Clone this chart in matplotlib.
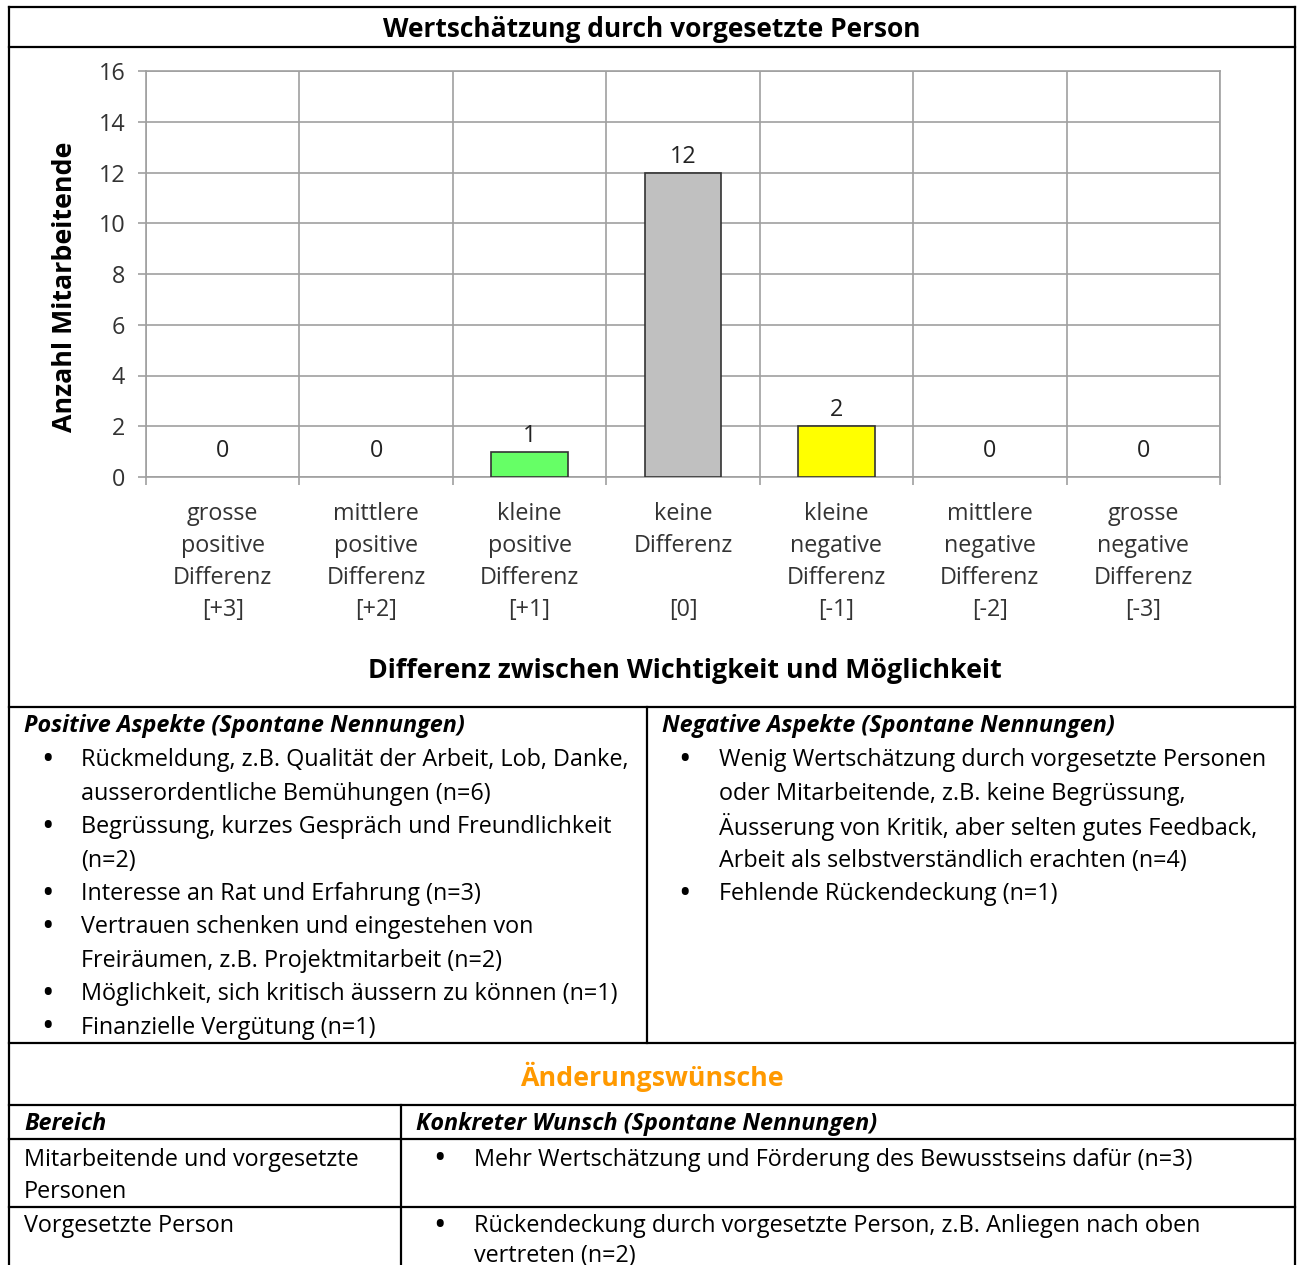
import matplotlib
matplotlib.use("Agg")
import matplotlib.pyplot as plt
from matplotlib.lines import Line2D

plt.rcParams['font.family'] = ['Open Sans', 'DejaVu Sans']

W, H = 1297, 1265

# chart data
categories = ["grosse\npositive\nDifferenz\n[+3]",
              "mittlere\npositive\nDifferenz\n[+2]",
              "kleine\npositive\nDifferenz\n[+1]",
              "keine\nDifferenz\n\n[0]",
              "kleine\nnegative\nDifferenz\n[-1]",
              "mittlere\nnegative\nDifferenz\n[-2]",
              "grosse\nnegative\nDifferenz\n[-3]"]
counts = [0, 0, 1, 12, 2, 0, 0]
bar_colors = ["#66ff66", "#66ff66", "#66ff66", "#c0c0c0", "#ffff00", "#ffff00", "#ffff00"]

title = "Wertschätzung durch vorgesetzte Person"
y_label = "Anzahl Mitarbeitende"
x_label = "Differenz zwischen Wichtigkeit und Möglichkeit"

# table text
positive_head = "Positive Aspekte (Spontane Nennungen)"
positive_items = [
    ["Rückmeldung, z.B. Qualität der Arbeit, Lob, Danke,", "ausserordentliche Bemühungen (n=6)"],
    ["Begrüssung, kurzes Gespräch und Freundlichkeit", "(n=2)"],
    ["Interesse an Rat und Erfahrung (n=3)"],
    ["Vertrauen schenken und eingestehen von", "Freiräumen, z.B. Projektmitarbeit (n=2)"],
    ["Möglichkeit, sich kritisch äussern zu können (n=1)"],
    ["Finanzielle Vergütung (n=1)"],
]
negative_head = "Negative Aspekte (Spontane Nennungen)"
negative_items = [
    ["Wenig Wertschätzung durch vorgesetzte Personen", "oder Mitarbeitende, z.B. keine Begrüssung,",
     "Äusserung von Kritik, aber selten gutes Feedback,", "Arbeit als selbstverständlich erachten (n=4)"],
    ["Fehlende Rückendeckung (n=1)"],
]
wish_title = "Änderungswünsche"
wish_heads = ["Bereich", "Konkreter Wunsch (Spontane Nennungen)"]
wish_areas = [["Mitarbeitende und vorgesetzte", "Personen"], ["Vorgesetzte Person"]]
wish_texts = [["Mehr Wertschätzung und Förderung des Bewusstseins dafür (n=3)"],
              ["Rückendeckung durch vorgesetzte Person, z.B. Anliegen nach oben", "vertreten (n=2)"]]

FS = 16.8

fig = plt.figure(figsize=(W / 100, H / 100), dpi=100)


def fx(x):
    return x / W


def fy(y):
    return 1 - y / H


def txt(x, y, s, **kw):
    # small nudge so text centres sit like the Word layout
    kw.setdefault("va", "center")
    kw.setdefault("fontsize", FS)
    kw.setdefault("color", "black")
    fig.text(fx(x), fy(y + 1.5), s, **kw)


def hline(y, x0=9, x1=1295):
    fig.add_artist(Line2D([fx(x0), fx(x1)], [fy(y), fy(y)], color="black", lw=1.6))


def vline(x, y0, y1):
    fig.add_artist(Line2D([fx(x), fx(x)], [fy(y0), fy(y1)], color="black", lw=1.6))


# frame lines
hline(7)
hline(47)
hline(707)
hline(1043)
hline(1105)
hline(1139)
hline(1207)
vline(9, 7, 1265)
vline(1295, 7, 1265)
vline(647, 707, 1043)
vline(401, 1105, 1265)

txt(652, 28, title, ha="center", fontsize=19, fontweight="bold")

# bar chart
ax = fig.add_axes([fx(146), fy(477), (1220 - 146) / W, (477 - 71) / H])
xs = list(range(len(counts)))
edges = ["#333333" if v > 0 else "none" for v in counts]
ax.bar(xs, counts, width=0.5, color=bar_colors, edgecolor=edges, linewidth=1.2, zorder=3)
for x, v in zip(xs, counts):
    off = 26 if v == 0 else 16
    ax.annotate(str(v), (x, v), xytext=(0, off * 0.72), textcoords="offset points",
                ha="center", va="center", fontsize=FS, color="#222222")
ax.set_xlim(-0.5, len(counts) - 0.5)
ax.set_ylim(0, 16)
ax.set_yticks(range(0, 17, 2))
ax.set_xticks(xs)
ax.set_xticklabels(categories, fontsize=FS, color="#333333", linespacing=1.45)
ax.set_xticks([i - 0.5 for i in range(len(counts) + 1)], minor=True)
ax.tick_params(axis="x", which="major", length=0, pad=18)
ax.tick_params(axis="x", which="minor", length=6, width=1.2, color="#a0a0a0", direction="out")
ax.tick_params(axis="y", length=6, width=1.2, color="#a0a0a0", labelsize=FS, labelcolor="#333333", pad=9)
ax.grid(True, axis="y", color="#a0a0a0", lw=1.2, zorder=0)
ax.grid(True, axis="x", which="minor", color="#a0a0a0", lw=1.2, zorder=0)
for sp in ax.spines.values():
    sp.set_color("#a0a0a0")
    sp.set_linewidth(1.2)

txt(65, 285, y_label, ha="center", fontsize=19.3, fontweight="bold", rotation=90)
txt(685, 669, x_label, ha="center", fontsize=19.3, fontweight="bold")

# aspects table
step = 33.4


def bullet_block(items, y, xb, xt):
    for item in items:
        txt(xb, y, "•", fontsize=24, ha="center")
        for line in item:
            txt(xt, y, line)
            y += step
    return y


txt(24, 725, positive_head, fontweight="bold", fontstyle="italic")
txt(662, 725, negative_head, fontweight="bold", fontstyle="italic")
bullet_block(positive_items, 759, 47, 81)
bullet_block(negative_items, 759, 685, 719)

# wishes table
txt(652, 1075, wish_title, ha="center", fontsize=19.3, fontweight="bold", color="#ff9900")
txt(24, 1123, wish_heads[0], fontweight="bold", fontstyle="italic")
txt(416, 1123, wish_heads[1], fontweight="bold", fontstyle="italic")
row_tops = [1158, 1225]
for y0, area, wish in zip(row_tops, wish_areas, wish_texts):
    for i, line in enumerate(area):
        txt(24, y0 + i * 32, line)
    txt(440, y0, "•", fontsize=24, ha="center")
    for i, line in enumerate(wish):
        txt(474, y0 + i * 30, line)

fig.savefig("out.png", dpi=100)
